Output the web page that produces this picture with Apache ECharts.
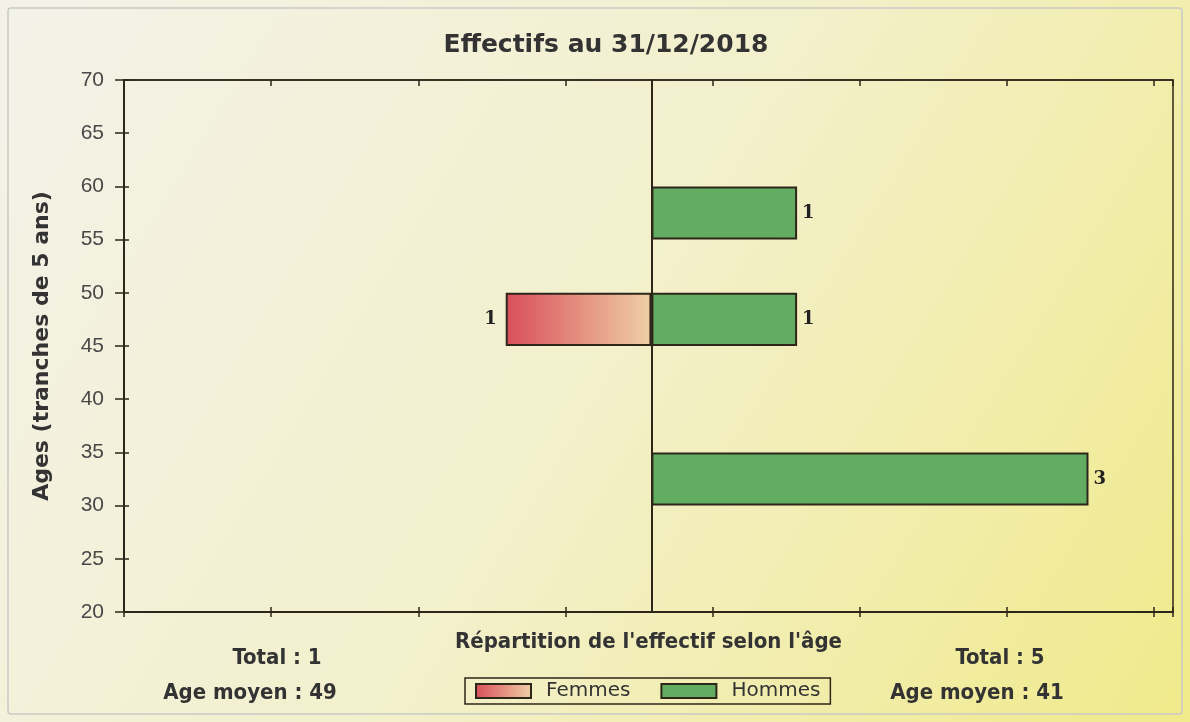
<!DOCTYPE html>
<html>
<head>
<meta charset="utf-8">
<script src="https://cdn.jsdelivr.net/npm/echarts@6/dist/echarts.min.js"></script>
<style>
  html, body { margin: 0; padding: 0; }
  #chart { width: 1190px; height: 722px; }
</style>
</head>
<body>
<div id="chart"></div>
<script>
// tranches d'age de 5 ans
const ageBands = ['20-24', '25-29', '30-34', '35-39', '40-44', '45-49', '50-54', '55-59', '60-64', '65-69'];
const femmes = [0, 0, 0, 0, 0, 1, 0, 0, 0, 0];
const hommes = [0, 0, 3, 0, 0, 1, 0, 1, 0, 0];
const ageTicks = [20, 25, 30, 35, 40, 45, 50, 55, 60, 65, 70];
const totals = { femmes: 1, hommes: 5 };
const ageMoyen = { femmes: 49, hommes: 41 };

const chartDom = document.getElementById('chart');
const myChart = echarts.init(chartDom);

const dark = '#2e2618';
// effectif axis: femmes on the negative side
const xMin = -3.62, xMax = 3.58, xStep = 1.01;

const femmesColor = new echarts.graphic.LinearGradient(0, 0, 1, 0, [
  { offset: 0, color: '#d94e5a' },
  { offset: 1, color: '#efd0a6' }
]);
const hommesColor = '#63ad63';

const sideText = (text, x, y) => ({
  text: text,
  left: x,
  top: y,
  textAlign: 'center',
  textStyle: { fontFamily: 'DejaVu Sans Condensed', fontWeight: 'bold', fontSize: 22, color: '#333' }
});

const xBase = {
  type: 'value',
  min: xMin,
  max: xMax,
  interval: xStep,
  splitLine: { show: false },
  axisLabel: { show: false }
};

const yBase = {
  type: 'value',
  position: 'left',
  min: ageTicks[0],
  max: ageTicks[ageTicks.length - 1],
  interval: ageTicks[1] - ageTicks[0],
  splitLine: { show: false }
};

const option = {
  backgroundColor: new echarts.graphic.LinearGradient(0, 0, 1, 1, [
    { offset: 0, color: '#f3f2e9' },
    { offset: 0.5, color: '#f3f0cc' },
    { offset: 1, color: '#f0ea8a' }
  ]),
  animation: false,
  title: [
    {
      text: 'Effectifs au 31/12/2018',
      left: 601,
      top: 28,
      textAlign: 'center',
      textStyle: { fontFamily: 'DejaVu Sans', fontWeight: 'bold', fontSize: 25, color: '#333' }
    },
    sideText('Total : ' + totals.femmes, 272, 642),
    sideText('Age moyen : ' + ageMoyen.femmes, 245, 677),
    sideText('Total : ' + totals.hommes, 995, 642),
    sideText('Age moyen : ' + ageMoyen.hommes, 972, 677)
  ],
  graphic: [
    {
      type: 'rect',
      shape: { x: 8, y: 8, width: 1174, height: 706, r: 3 },
      style: { fill: 'none', stroke: '#c9c9c6', lineWidth: 1.5 },
      silent: true
    }
  ],
  legend: {
    left: 465,
    top: 678,
    padding: [2, 10, 2, 10],
    itemWidth: 55,
    itemHeight: 14,
    itemGap: 30,
    borderColor: dark,
    borderWidth: 1.5,
    icon: 'rect',
    textStyle: { fontFamily: 'DejaVu Sans', fontSize: 20, color: '#333', padding: [0, 0, 0, 10], lineHeight: 22 },
    data: ['Femmes', 'Hommes']
  },
  grid: {
    left: 124,
    right: 17,
    top: 80,
    bottom: 110,
    show: true,
    borderColor: dark,
    borderWidth: 1.5,
    backgroundColor: 'transparent'
  },
  xAxis: [
    Object.assign({}, xBase, {
      position: 'bottom',
      name: "Répartition de l'effectif selon l'âge",
      nameLocation: 'middle',
      nameGap: 19,
      nameTextStyle: { fontFamily: 'DejaVu Sans Condensed', fontWeight: 'bold', fontSize: 22, color: '#333' },
      axisLine: { show: true, onZero: false, lineStyle: { color: dark, width: 2 } },
      axisTick: { show: true, inside: false, length: 5, lineStyle: { color: dark, width: 1.5 } }
    }),
    Object.assign({}, xBase, {
      position: 'bottom',
      axisLine: { show: false, onZero: false },
      axisTick: { show: true, inside: true, length: 5, lineStyle: { color: dark, width: 1.5 } }
    }),
    Object.assign({}, xBase, {
      position: 'top',
      axisLine: { show: true, onZero: false, lineStyle: { color: dark, width: 1.5 } },
      axisTick: { show: true, inside: true, length: 6, lineStyle: { color: dark, width: 1.5 } }
    })
  ],
  yAxis: [
    {
      type: 'category',
      data: ageBands,
      boundaryGap: true,
      axisLine: { show: true, onZero: true, lineStyle: { color: dark, width: 2 } },
      axisTick: { show: false },
      axisLabel: { show: false },
      splitLine: { show: false }
    },
    Object.assign({}, yBase, {
      name: 'Ages (tranches de 5 ans)',
      nameLocation: 'middle',
      nameGap: 71,
      nameTextStyle: { fontFamily: 'DejaVu Sans', fontWeight: 'bold', fontSize: 22, color: '#333' },
      axisLine: { show: true, onZero: false, lineStyle: { color: dark, width: 2 } },
      axisTick: { show: true, inside: false, length: 9, lineStyle: { color: dark, width: 1.5 } },
      axisLabel: { fontFamily: 'Liberation Sans', fontSize: 21, color: '#484848', margin: 20 }
    }),
    Object.assign({}, yBase, {
      axisLine: { show: false, onZero: false },
      axisTick: { show: true, inside: true, length: 5, lineStyle: { color: dark, width: 1.5 } },
      axisLabel: { show: false }
    })
  ],
  series: [
    {
      name: 'Femmes',
      type: 'bar',
      stack: 'pyramide',
      xAxisIndex: 0,
      yAxisIndex: 0,
      barWidth: '100%',
      data: femmes.map(v => (v ? -v : '-')),
      itemStyle: { color: femmesColor, borderColor: dark, borderWidth: 2 },
      label: {
        show: true,
        position: 'left',
        distance: 9,
        formatter: p => Math.abs(p.value),
        fontFamily: 'DejaVu Serif',
        fontWeight: 'bold',
        fontSize: 18,
        color: '#222'
      }
    },
    {
      name: 'Hommes',
      type: 'bar',
      stack: 'pyramide',
      xAxisIndex: 0,
      yAxisIndex: 0,
      barWidth: '100%',
      data: hommes.map(v => (v ? v : '-')),
      itemStyle: { color: hommesColor, borderColor: dark, borderWidth: 2 },
      label: {
        show: true,
        position: 'right',
        distance: 5,
        fontFamily: 'DejaVu Serif',
        fontWeight: 'bold',
        fontSize: 18,
        color: '#222'
      }
    }
  ]
};

myChart.setOption(option);
window.addEventListener('resize', () => myChart.resize());
</script>
</body>
</html>
